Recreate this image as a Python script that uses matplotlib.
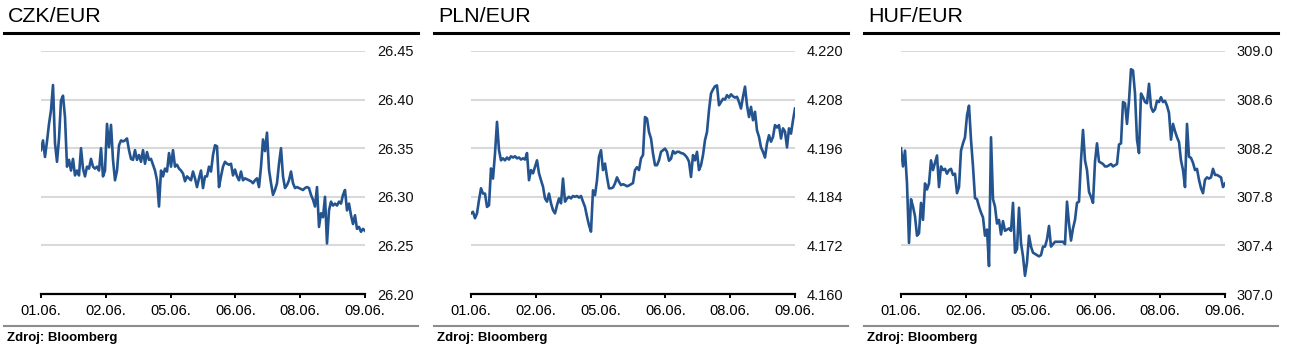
import numpy as np
import matplotlib
matplotlib.use('Agg')
import matplotlib.pyplot as plt
from matplotlib.lines import Line2D

plt.rcParams['font.family'] = ['Liberation Sans', 'DejaVu Sans']

# ---------------- data ----------------
date_labels = ['01.06.', '02.06.', '05.06.', '06.06.', '08.06.', '09.06.']

czk_eur = [
    26.348, 26.358, 26.341, 26.357, 26.375, 26.389, 26.415, 26.355, 26.336, 26.360,
    26.399, 26.404, 26.382, 26.331, 26.338, 26.327, 26.339, 26.322, 26.327, 26.322,
    26.350, 26.329, 26.321, 26.331, 26.329, 26.339, 26.331, 26.329, 26.331, 26.327,
    26.350, 26.321, 26.327, 26.375, 26.351, 26.374, 26.338, 26.317, 26.327, 26.353,
    26.358, 26.357, 26.358, 26.360, 26.348, 26.339, 26.338, 26.348, 26.338, 26.343,
    26.336, 26.348, 26.334, 26.346, 26.338, 26.339, 26.333, 26.327, 26.317, 26.290,
    26.327, 26.321, 26.329, 26.326, 26.345, 26.331, 26.348, 26.331, 26.333, 26.329,
    26.327, 26.324, 26.316, 26.321, 26.319, 26.317, 26.326, 26.319, 26.310, 26.319,
    26.327, 26.309, 26.321,
    26.321, 26.331, 26.326, 26.343, 26.353, 26.352, 26.310, 26.321, 26.331, 26.336,
    26.334, 26.333, 26.334, 26.322, 26.328, 26.321, 26.317, 26.326, 26.317, 26.319,
    26.318, 26.317, 26.316, 26.314, 26.317, 26.319, 26.310, 26.331, 26.359, 26.347,
    26.366, 26.328, 26.314, 26.302, 26.307, 26.314, 26.334, 26.350, 26.321, 26.309,
    26.312, 26.317, 26.326, 26.314, 26.309, 26.310, 26.309, 26.308, 26.307, 26.309,
    26.310, 26.309, 26.302, 26.297, 26.290, 26.310, 26.269, 26.283, 26.279, 26.300,
    26.252, 26.286, 26.295, 26.291, 26.293, 26.291, 26.295, 26.293, 26.302, 26.307,
    26.286, 26.293, 26.281, 26.272, 26.281, 26.267, 26.269, 26.264, 26.267, 26.265,
]

pln_eur = [
    4.1799, 4.1803, 4.1787, 4.1799, 4.1832, 4.1861, 4.1848, 4.1848, 4.1815, 4.1819,
    4.1910, 4.1885, 4.1947, 4.2025, 4.1955, 4.1930, 4.1935, 4.1930, 4.1937, 4.1932,
    4.1940, 4.1937, 4.1940, 4.1935, 4.1937, 4.1932, 4.1935, 4.1932, 4.1948, 4.1881,
    4.1906, 4.1898, 4.1914, 4.1930, 4.1898, 4.1881, 4.1865, 4.1836, 4.1828, 4.1848,
    4.1824, 4.1807, 4.1799, 4.1819, 4.1836, 4.1824, 4.1885, 4.1828, 4.1836, 4.1840,
    4.1836, 4.1842, 4.1840, 4.1842, 4.1838, 4.1842, 4.1828, 4.1815, 4.1791, 4.1770,
    4.1754, 4.1856, 4.1844, 4.1881, 4.1939, 4.1955, 4.1906, 4.1922, 4.1889, 4.1861,
    4.1861, 4.1863, 4.1873, 4.1888, 4.1877, 4.1869, 4.1871, 4.1869, 4.1866, 4.1868,
    4.1871, 4.1874, 4.1906,
    4.1913, 4.1906, 4.1935, 4.1943, 4.2037, 4.2033, 4.2000, 4.1984, 4.1947, 4.1918,
    4.1918, 4.1930, 4.1951, 4.1955, 4.1959, 4.1951, 4.1929, 4.1934, 4.1953, 4.1947,
    4.1951, 4.1951, 4.1948, 4.1947, 4.1943, 4.1937, 4.1927, 4.1889, 4.1943, 4.1930,
    4.1951, 4.1906, 4.1918, 4.1943, 4.1980, 4.2000, 4.2054, 4.2095, 4.2105, 4.2113,
    4.2115, 4.2066, 4.2074, 4.2082, 4.2080, 4.2091, 4.2085, 4.2093, 4.2088, 4.2085,
    4.2087, 4.2074, 4.2058, 4.2087, 4.2112, 4.2066, 4.2037, 4.2062, 4.2029, 4.2050,
    4.2004, 4.1988, 4.1962, 4.1951, 4.1937, 4.1972, 4.1992, 4.1976, 4.1988, 4.2017,
    4.2011, 4.2017, 4.1984, 4.2009, 4.2001, 4.1962, 4.2009, 4.1996, 4.2029, 4.2058,
]

huf_eur = [
    308.20, 308.05, 308.18, 307.91, 307.42, 307.78, 307.72, 307.64, 307.48, 307.50,
    307.75, 307.61, 307.91, 307.86, 307.91, 308.10, 308.02, 308.08, 308.14, 307.88,
    308.05, 308.02, 308.03, 307.99, 308.02, 308.03, 307.98, 307.99, 307.83, 307.88,
    308.18, 308.24, 308.29, 308.47, 308.55, 308.27, 308.05, 307.79, 307.78, 307.72,
    307.67, 307.63, 307.48, 307.53, 307.23, 308.29, 307.78, 307.72, 307.58, 307.61,
    307.49, 307.60, 307.52, 307.53, 307.54, 307.52, 307.75, 307.34, 307.37, 307.71,
    307.42, 307.31, 307.15, 307.26, 307.48, 307.39, 307.34, 307.33, 307.32, 307.31,
    307.32, 307.39, 307.39, 307.45, 307.56, 307.39, 307.41, 307.43, 307.43, 307.43,
    307.43,
    307.43, 307.41, 307.76, 307.58, 307.44, 307.54, 307.61, 307.75, 307.76, 308.10,
    308.35, 308.10, 308.02, 307.84, 307.80, 307.75, 308.09, 308.24, 308.09, 308.08,
    308.07, 308.05, 308.05, 308.06, 308.07, 308.05, 308.06, 308.07, 308.23, 308.24,
    308.58, 308.57, 308.40, 308.59, 308.85, 308.84, 308.65, 308.27, 308.16, 308.65,
    308.62, 308.58, 308.57, 308.73, 308.54, 308.50, 308.52, 308.59, 308.58, 308.62,
    308.58, 308.59, 308.55, 308.49, 308.27, 308.40, 308.34, 308.29, 308.25, 308.10,
    308.02, 307.88, 308.40, 308.13, 308.12, 308.08, 308.02, 308.03, 307.94, 307.87,
    307.83, 307.94, 307.96, 307.95, 307.96, 308.03, 307.98, 307.98, 307.97, 307.96,
    307.88, 307.91,
]

czk_ticks = [26.20, 26.25, 26.30, 26.35, 26.40, 26.45]
pln_ticks = [4.160, 4.172, 4.184, 4.196, 4.208, 4.220]
huf_ticks = [307.0, 307.4, 307.8, 308.2, 308.6, 309.0]

# ---------------- figure ----------------
W, H = 1292, 359
fig = plt.figure(figsize=(W / 100, H / 100), dpi=100)
LINE_COLOR = '#24548f'

panels = [
    ('CZK/EUR', czk_eur, czk_ticks, '{:.2f}', 0),
    ('PLN/EUR', pln_eur, pln_ticks, '{:.3f}', 430),
    ('HUF/EUR', huf_eur, huf_ticks, '{:.1f}', 860),
]

for title, series, yt, fmt, off in panels:
    ax = fig.add_axes([(41 + off) / W, (H - 294) / H, 324 / W, 243 / H])
    x = np.arange(len(series))
    ax.plot(x, series, color=LINE_COLOR, lw=1.9, zorder=3)
    ax.set_xlim(0, len(series) - 1)
    ax.set_ylim(yt[0], yt[-1])
    ax.set_yticks(yt)
    ax.set_yticklabels([fmt.format(v) for v in yt])
    ax.yaxis.tick_right()
    ax.tick_params(axis='y', length=0, pad=8.5, labelsize=10.5, colors='#111111')
    ax.set_xticks(np.linspace(0, len(series) - 1, len(date_labels)))
    ax.set_xticklabels(date_labels)
    ax.tick_params(axis='x', direction='out', length=3, width=1.4, pad=4.5,
                   labelsize=10.5, colors='black')
    ax.grid(axis='y', color='#d9d9d9', lw=1.5, zorder=0)
    ax.set_axisbelow(True)
    for s in ('top', 'left', 'right'):
        ax.spines[s].set_visible(False)
    ax.spines['bottom'].set_linewidth(1.6)
    ax.spines['bottom'].set_color('black')
    ax.spines['bottom'].set_zorder(4)
    ax.set_facecolor('none')

    fig.text((8 + off) / W, 1 - 22 / H, title, fontsize=15.4, va='baseline',
             ha='left', color='black')
    fig.add_artist(Line2D([(4 + off) / W, (418 + off) / W], [1 - 32.5 / H] * 2,
                          transform=fig.transFigure, color='black', lw=2.2))
    fig.add_artist(Line2D([(4 + off) / W, (418 + off) / W], [1 - 325.5 / H] * 2,
                          transform=fig.transFigure, color='#8c8c8c', lw=1.5))
    fig.text((7 + off) / W, 1 - 338 / H, 'Zdroj: Bloomberg', fontsize=9.5,
             fontweight='bold', va='center', ha='left', color='black')

fig.savefig('out.png', dpi=100)
